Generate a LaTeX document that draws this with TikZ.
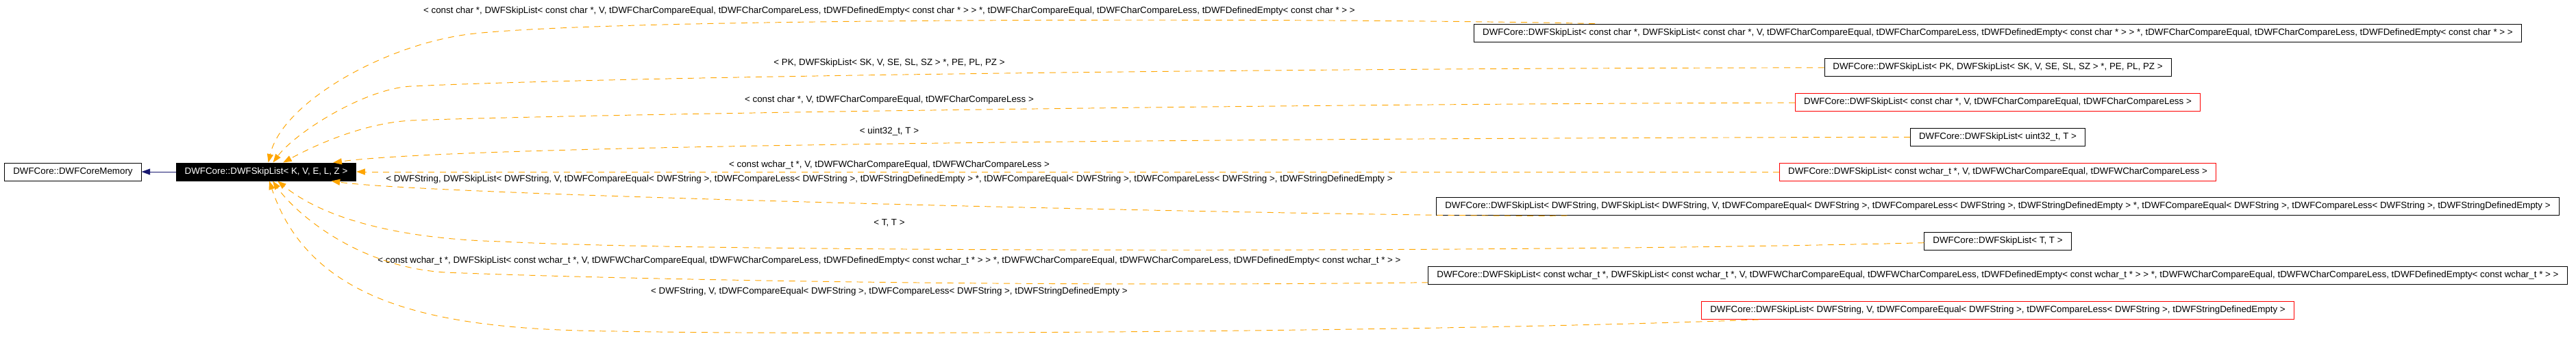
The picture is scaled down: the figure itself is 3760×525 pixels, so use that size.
\documentclass[tikz,border=0pt]{standalone}
\usepackage{fontspec}
\setmainfont{Liberation Sans}
\usetikzlibrary{arrows.meta}
\definecolor{dotorange}{RGB}{255,165,0}
\definecolor{dotblue}{RGB}{25,25,112}
\begin{document}
\begin{tikzpicture}[x=0.02cm, y=-0.02cm,
    every node/.style={font=\fontsize{7.6pt}{9.1pt}\selectfont},
    classbox/.style={draw=black, line width=0.55pt, fill=white, minimum height=0.52cm, inner xsep=0.25cm, inner ysep=0pt},
    redbox/.style={classbox, draw=red},
    focusbox/.style={classbox, fill=black, text=white},
    tlabel/.style={inner sep=0pt},
    tmpl/.style={draw=dotorange, line width=0.55pt, dash pattern=on 0.18cm off 0.15cm, -{Triangle[length=0.25cm, width=0.18cm]}},
    inherit/.style={draw=dotblue, line width=0.55pt, -{Triangle[length=0.25cm, width=0.18cm]}}]
    \useasboundingbox (0,0) rectangle (3760,525);

    \node[classbox] (mem) at (106.5,251) {DWFCore::DWFCoreMemory};
    \node[focusbox] (skl) at (388.5,251) {DWFCore::DWFSkipList< K, V, E, L, Z >};

    % instantiations, all centred on one column
    \node[classbox] (r1) at (2916,48) {DWFCore::DWFSkipList< const char *, DWFSkipList< const char *, V, tDWFCharCompareEqual, tDWFCharCompareLess, tDWFDefinedEmpty< const char * > > *, tDWFCharCompareEqual, tDWFCharCompareLess, tDWFDefinedEmpty< const char * > >};
    \node[classbox] (r2) at (2916,98.5) {DWFCore::DWFSkipList< PK, DWFSkipList< SK, V, SE, SL, SZ > *, PE, PL, PZ >};
    \node[redbox] (r3) at (2916,149.5) {DWFCore::DWFSkipList< const char *, V, tDWFCharCompareEqual, tDWFCharCompareLess >};
    \node[classbox] (r4) at (2916,200) {DWFCore::DWFSkipList< uint32\_t, T >};
    \node[redbox] (r5) at (2916,251) {DWFCore::DWFSkipList< const wchar\_t *, V, tDWFWCharCompareEqual, tDWFWCharCompareLess >};
    \node[classbox] (r6) at (2916,301.5) {DWFCore::DWFSkipList< DWFString, DWFSkipList< DWFString, V, tDWFCompareEqual< DWFString >, tDWFCompareLess< DWFString >, tDWFStringDefinedEmpty > *, tDWFCompareEqual< DWFString >, tDWFCompareLess< DWFString >, tDWFStringDefinedEmpty >};
    \node[classbox] (r7) at (2916,352) {DWFCore::DWFSkipList< T, T >};
    \node[classbox] (r8) at (2916,402.5) {DWFCore::DWFSkipList< const wchar\_t *, DWFSkipList< const wchar\_t *, V, tDWFWCharCompareEqual, tDWFWCharCompareLess, tDWFDefinedEmpty< const wchar\_t * > > *, tDWFWCharCompareEqual, tDWFWCharCompareLess, tDWFDefinedEmpty< const wchar\_t * > >};
    \node[redbox] (r9) at (2916,453.5) {DWFCore::DWFSkipList< DWFString, V, tDWFCompareEqual< DWFString >, tDWFCompareLess< DWFString >, tDWFStringDefinedEmpty >};

    % template arguments
    \node[tlabel] (l1) at (1298,16) {< const char *, DWFSkipList< const char *, V, tDWFCharCompareEqual, tDWFCharCompareLess, tDWFDefinedEmpty< const char * > > *, tDWFCharCompareEqual, tDWFCharCompareLess, tDWFDefinedEmpty< const char * > >};
    \node[tlabel] (l2) at (1298,92) {< PK, DWFSkipList< SK, V, SE, SL, SZ > *, PE, PL, PZ >};
    \node[tlabel] (l3) at (1298,146) {< const char *, V, tDWFCharCompareEqual, tDWFCharCompareLess >};
    \node[tlabel] (l4) at (1298,192) {< uint32\_t, T >};
    \node[tlabel] (l5) at (1298,241) {< const wchar\_t *, V, tDWFWCharCompareEqual, tDWFWCharCompareLess >};
    \node[tlabel] (l6) at (1298,262) {< DWFString, DWFSkipList< DWFString, V, tDWFCompareEqual< DWFString >, tDWFCompareLess< DWFString >, tDWFStringDefinedEmpty > *, tDWFCompareEqual< DWFString >, tDWFCompareLess< DWFString >, tDWFStringDefinedEmpty >};
    \node[tlabel] (l7) at (1298,326) {< T, T >};
    \node[tlabel] (l8) at (1298,381) {< const wchar\_t *, DWFSkipList< const wchar\_t *, V, tDWFWCharCompareEqual, tDWFWCharCompareLess, tDWFDefinedEmpty< const wchar\_t * > > *, tDWFWCharCompareEqual, tDWFWCharCompareLess, tDWFDefinedEmpty< const wchar\_t * > >};
    \node[tlabel] (l9) at (1298,426) {< DWFString, V, tDWFCompareEqual< DWFString >, tDWFCompareLess< DWFString >, tDWFStringDefinedEmpty >};

    \draw[inherit] (skl) -- (mem);

    \draw[tmpl] (r1) .. controls (2000,27) and (900,24) .. (684,50) .. controls (560,66) and (412,150) .. (skl);
    \draw[tmpl] (r2) .. controls (1800,100) and (900,112) .. (600,126) .. controls (530,130) and (430,195) .. (skl);
    \draw[tmpl] (r3) .. controls (1800,152) and (800,168) .. (600,176) .. controls (530,180) and (460,212) .. (skl);
    \draw[tmpl] (r4) .. controls (1500,203) and (650,215) .. (skl);
    \draw[tmpl] (r5) -- (skl);
    \draw[tmpl] (r6) .. controls (2100,319) and (650,288) .. (skl);
    \draw[tmpl] (r7) .. controls (2200,370) and (1000,368) .. (735,353) .. controls (600,350) and (480,325) .. (skl);
    \draw[tmpl] (r8) .. controls (1500,420) and (900,408) .. (650,398) .. controls (520,390) and (430,310) .. (skl);
    \draw[tmpl] (r9) .. controls (2100,485) and (1200,490) .. (900,484) .. controls (650,482) and (455,450) .. (skl);
\end{tikzpicture}
\end{document}
